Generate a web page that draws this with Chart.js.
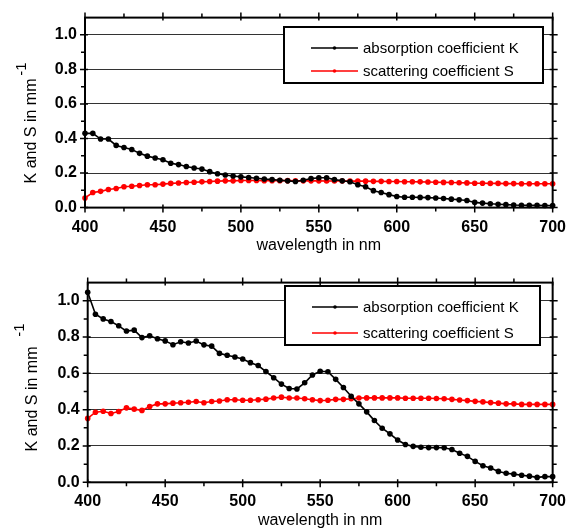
<!DOCTYPE html>
<html>
<head>
<meta charset="utf-8">
<script src="https://cdn.jsdelivr.net/npm/chart.js@4.4.0/dist/chart.umd.min.js"></script>
<style>
  html, body { margin: 0; padding: 0; background: #fff; }
  .panel { position: absolute; left: 0; width: 576px; height: 265px; }
</style>
</head>
<body>
<div class="panel" style="top:0"><canvas id="topChart"></canvas></div>
<div class="panel" style="top:265px"><canvas id="bottomChart"></canvas></div>
<script>
// wavelength grid in nm
const wavelengths = [
  400, 405, 410, 415, 420, 425, 430, 435, 440, 445, 450,
  455, 460, 465, 470, 475, 480, 485, 490, 495, 500,
  505, 510, 515, 520, 525, 530, 535, 540, 545, 550,
  555, 560, 565, 570, 575, 580, 585, 590, 595, 600,
  605, 610, 615, 620, 625, 630, 635, 640, 645, 650,
  655, 660, 665, 670, 675, 680, 685, 690, 695, 700
];

// upper panel
const topK = [
  0.430, 0.430, 0.397, 0.397, 0.360, 0.348, 0.336, 0.314, 0.298, 0.287, 0.277,
  0.257, 0.249, 0.238, 0.229, 0.223, 0.208, 0.196, 0.189, 0.183, 0.178,
  0.174, 0.170, 0.166, 0.162, 0.158, 0.155, 0.151, 0.158, 0.168, 0.173,
  0.173, 0.162, 0.155, 0.150, 0.132, 0.121, 0.098, 0.087, 0.075, 0.064,
  0.060, 0.060, 0.059, 0.058, 0.056, 0.053, 0.049, 0.045, 0.041, 0.030,
  0.026, 0.022, 0.019, 0.017, 0.015, 0.014, 0.013, 0.013, 0.012, 0.012
];
const topS = [
  0.056, 0.087, 0.094, 0.105, 0.111, 0.121, 0.124, 0.128, 0.132, 0.132, 0.136,
  0.140, 0.142, 0.145, 0.147, 0.149, 0.151, 0.153, 0.155, 0.155, 0.157,
  0.157, 0.157, 0.156, 0.156, 0.156, 0.156, 0.155, 0.155, 0.155, 0.155,
  0.154, 0.154, 0.154, 0.153, 0.153, 0.153, 0.152, 0.152, 0.151, 0.151,
  0.150, 0.150, 0.149, 0.148, 0.147, 0.146, 0.145, 0.144, 0.143, 0.141,
  0.141, 0.140, 0.140, 0.139, 0.139, 0.138, 0.138, 0.138, 0.138, 0.138
];

// lower panel
const bottomK = [
  1.047, 0.926, 0.900, 0.886, 0.862, 0.833, 0.838, 0.797, 0.807, 0.791, 0.779,
  0.758, 0.774, 0.767, 0.778, 0.757, 0.750, 0.710, 0.700, 0.690, 0.679,
  0.659, 0.643, 0.610, 0.576, 0.541, 0.517, 0.514, 0.548, 0.591, 0.612,
  0.609, 0.567, 0.522, 0.474, 0.432, 0.388, 0.340, 0.298, 0.267, 0.233,
  0.208, 0.198, 0.193, 0.191, 0.191, 0.190, 0.181, 0.160, 0.143, 0.115,
  0.091, 0.079, 0.060, 0.050, 0.045, 0.039, 0.034, 0.027, 0.031, 0.031
];
const bottomS = [
  0.352, 0.386, 0.391, 0.379, 0.390, 0.410, 0.403, 0.396, 0.417, 0.432, 0.432,
  0.436, 0.438, 0.441, 0.445, 0.438, 0.445, 0.448, 0.455, 0.455, 0.452,
  0.452, 0.455, 0.458, 0.464, 0.469, 0.464, 0.464, 0.460, 0.455, 0.450,
  0.452, 0.457, 0.457, 0.460, 0.464, 0.465, 0.465, 0.465, 0.465, 0.465,
  0.463, 0.463, 0.463, 0.463, 0.462, 0.460, 0.457, 0.453, 0.450, 0.446,
  0.443, 0.439, 0.436, 0.432, 0.432, 0.429, 0.429, 0.429, 0.429, 0.429
];

const seriesLabels = ["absorption coefficient K", "scattering coefficient S"];
const xTicks = [400, 450, 500, 550, 600, 650, 700];
const xMinorTicks = [425, 475, 525, 575, 625, 675];
const yTicks = [0, 0.2, 0.4, 0.6, 0.8, 1.0];
const yMinorTicks = [0.1, 0.3, 0.5, 0.7, 0.9];
const xTitle = "wavelength in nm";
const yTitle = "K and S in mm";
const yTitleSup = "-1";

const FONT = "'Liberation Sans', Arial, sans-serif";

// frame, tick marks, y title and the boxed legend
const decorPlugin = {
  id: "decor",
  afterDatasetsDraw(chart, args, opts) {
    const ctx = chart.ctx;
    const lg = opts.legend;
    ctx.save();
    ctx.fillStyle = "#fff";
    ctx.fillRect(lg.left, lg.top, lg.width, lg.height);
    ctx.strokeStyle = "#000";
    ctx.lineWidth = 2;
    ctx.strokeRect(lg.left, lg.top, lg.width, lg.height);
    ctx.font = "15px " + FONT;
    ctx.textBaseline = "middle";
    chart.data.datasets.forEach((ds, i) => {
      const y = lg.rows[i];
      ctx.strokeStyle = ds.borderColor;
      ctx.lineWidth = 1.6;
      ctx.beginPath();
      ctx.moveTo(lg.lineX1, y);
      ctx.lineTo(lg.lineX2, y);
      ctx.stroke();
      ctx.fillStyle = ds.borderColor;
      ctx.beginPath();
      ctx.arc((lg.lineX1 + lg.lineX2) / 2, y, 1.8, 0, Math.PI * 2);
      ctx.fill();
      ctx.fillStyle = "#000";
      ctx.fillText(ds.label, lg.textX, y + 1);
    });
    ctx.restore();
  },
  afterDraw(chart, args, opts) {
    const ctx = chart.ctx;
    const a = chart.chartArea;
    const xs = chart.scales.x;
    const ys = chart.scales.y;
    ctx.save();
    ctx.strokeStyle = "#000";
    ctx.lineWidth = 1.5;
    ctx.beginPath();
    // major ticks cross the frame, minor ones only point outward
    const xMark = (v, out, inn) => {
      const px = xs.getPixelForValue(v);
      ctx.moveTo(px, a.bottom - inn); ctx.lineTo(px, a.bottom + out);
      ctx.moveTo(px, a.top + inn); ctx.lineTo(px, a.top - out);
    };
    const yMark = (v, out, inn) => {
      const py = ys.getPixelForValue(v);
      ctx.moveTo(a.left + inn, py); ctx.lineTo(a.left - out, py);
      ctx.moveTo(a.right - inn, py); ctx.lineTo(a.right + out, py);
    };
    xTicks.forEach(v => xMark(v, 5, 3));
    xMinorTicks.forEach(v => xMark(v, 4, 0));
    yTicks.forEach(v => yMark(v, 5, 3));
    yMinorTicks.forEach(v => yMark(v, 4, 0));
    ctx.stroke();
    ctx.lineWidth = 2;
    ctx.strokeRect(a.left, a.top, a.right - a.left, a.bottom - a.top);

    // rotated y axis title with superscript
    const t = opts.yTitle;
    ctx.fillStyle = "#000";
    ctx.textAlign = "center";
    ctx.textBaseline = "middle";
    ctx.font = "16px " + FONT;
    ctx.translate(t.x, t.y);
    ctx.rotate(-Math.PI / 2);
    ctx.fillText(yTitle, 0, 0);
    ctx.restore();
    ctx.save();
    ctx.fillStyle = "#000";
    ctx.textAlign = "center";
    ctx.textBaseline = "middle";
    ctx.font = "15px " + FONT;
    ctx.translate(t.supX, t.supY);
    ctx.rotate(-Math.PI / 2);
    ctx.fillText(yTitleSup, 0, 0);
    ctx.restore();
  }
};

function makeChart(id, kValues, sValues, box) {
  const ctx = document.getElementById(id).getContext("2d");
  return new Chart(ctx, {
    type: "line",
    data: {
      labels: wavelengths,
      datasets: [
        {
          label: seriesLabels[0],
          data: wavelengths.map((w, i) => ({ x: w, y: kValues[i] })),
          borderColor: "#000",
          backgroundColor: "#000",
          borderWidth: 1.6,
          pointRadius: 2.8,
          pointBorderWidth: 0,
          clip: false,
        },
        {
          label: seriesLabels[1],
          data: wavelengths.map((w, i) => ({ x: w, y: sValues[i] })),
          borderColor: "#ff0000",
          backgroundColor: "#ff0000",
          borderWidth: 1.6,
          pointRadius: 2.8,
          pointBorderWidth: 0,
          clip: false,
        },
      ],
    },
    options: {
      responsive: true,
      maintainAspectRatio: false,
      animation: false,
      layout: { padding: box.padding },
      plugins: {
        legend: { display: false },
        tooltip: { enabled: false },
        decor: { legend: box.legend, yTitle: box.yTitle },
      },
      scales: {
        x: {
          type: "linear",
          min: 400,
          max: 700,
          afterBuildTicks: (scale) => { scale.ticks = xTicks.map(v => ({ value: v })); },
          afterFit: (scale) => { scale.height = box.xHeight; },
          grid: { display: false, drawTicks: false },
          border: { display: false },
          ticks: {
            padding: box.xTickPad,
            color: "#000",
            font: { family: FONT, size: 16, weight: "bold" },
          },
          title: {
            display: true,
            text: xTitle,
            color: "#000",
            font: { family: FONT, size: 16 },
            padding: { top: 0, bottom: box.xTitlePad },
          },
        },
        y: {
          min: 0,
          max: 1.1,
          afterBuildTicks: (scale) => { scale.ticks = yTicks.map(v => ({ value: v })); },
          afterFit: (scale) => { scale.width = box.yWidth; },
          grid: {
            drawTicks: false,
            color: (c) => (c.tick && c.tick.value === 0 ? "rgba(0,0,0,0)" : "#333"),
            lineWidth: 1,
          },
          border: { display: false },
          ticks: {
            padding: 8,
            color: "#000",
            font: { family: FONT, size: 16, weight: "bold" },
            callback: (v) => Number(v).toFixed(1),
          },
        },
      },
    },
    plugins: [decorPlugin],
  });
}

makeChart("topChart", topK, topS, {
  padding: { left: 0, right: 15, top: 14, bottom: 0 },
  yWidth: 85,
  xHeight: 57.4,
  xTickPad: 10,
  xTitlePad: 10,
  yTitle: { x: 32, y: 131, supX: 22, supY: 69 },
  legend: { left: 284, top: 27, width: 259, height: 56, rows: [48, 71], lineX1: 311, lineX2: 358, textX: 363 },
});

makeChart("bottomChart", bottomK, bottomS, {
  padding: { left: 0, right: 16.7, top: 5, bottom: 0 },
  yWidth: 87.7,
  xHeight: 47.7,
  xTickPad: 10,
  xTitlePad: 0,
  yTitle: { x: 33, y: 134, supX: 20, supY: 65 },
  legend: { left: 285, top: 21, width: 255, height: 59, rows: [42, 68], lineX1: 312, lineX2: 358, textX: 363 },
});
</script>
</body>
</html>
